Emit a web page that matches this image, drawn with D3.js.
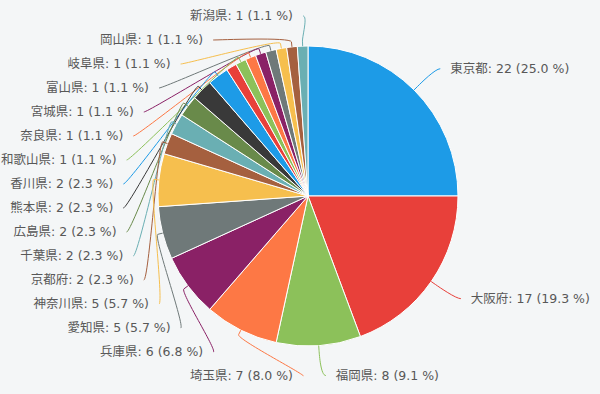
<!DOCTYPE html>
<html lang="ja">
<head>
<meta charset="utf-8">
<title>都道府県別</title>
<script src="https://cdn.jsdelivr.net/npm/d3@7"></script>
<style>
  body { margin: 0; background: #f4f6f7; }
  svg { display: block; }
  .lbl { font: 12.5px "DejaVu Sans", "Noto Sans CJK JP", sans-serif; fill: #585858; }
</style>
</head>
<body>
<svg id="chart" width="600" height="394"></svg>
<script>
// data, in slice order (clockwise from 12 o'clock)
var prefectures = ["東京都", "大阪府", "福岡県", "埼玉県", "兵庫県", "愛知県", "神奈川県",
  "京都府", "千葉県", "広島県", "熊本県", "香川県", "その他", "和歌山県", "奈良県",
  "宮城県", "富山県", "岐阜県", "岡山県", "新潟県"];
var counts = [22, 17, 8, 7, 6, 5, 5, 2, 2, 2, 2, 2, 1, 1, 1, 1, 1, 1, 1, 1];
var palette = ["#1d9be7", "#e8403a", "#8cc15a", "#fd7845", "#8a2166", "#6f7979",
  "#f6bf4e", "#a5603f", "#6aafb3", "#698a4a", "#393939"];

var svg = d3.select("#chart");
var cx = 308, cy = 196, r = 150;
var dist = 30, R = r + dist, pad = 5;
var yTop = 16, yBot = 376, rowH = 24;

var total = d3.sum(counts);
var data = counts.map(function(v, i) { return { name: prefectures[i], value: v, i: i }; });

var pie = d3.pie().sort(null).value(function(d) { return d.value; });
var arcs = pie(data);
var arc = d3.arc().innerRadius(0).outerRadius(r);

var g = svg.append("g").attr("transform", "translate(" + cx + "," + cy + ")");

g.selectAll("path.slice")
  .data(arcs)
  .enter().append("path")
  .attr("class", "slice")
  .attr("d", arc)
  .attr("fill", function(d) { return palette[d.index % palette.length]; })
  .attr("stroke", "#fff")
  .attr("stroke-width", 1)
  .attr("stroke-linejoin", "round");

// label layout (like highcharts: on a circle of radius R, spread out vertically)
arcs.forEach(function(a) {
  a.mid = (a.startAngle + a.endAngle) / 2;
  a.left = Math.sin(a.mid) < 0;
  a.ny = cy - R * Math.cos(a.mid);
});

function place(list) {
  var cap = Math.floor((yBot - yTop) / rowH) + 1;
  var keep = list.slice();
  while (keep.length > cap) {
    var minV = d3.min(keep, function(a) { return a.value; });
    var drop = keep.filter(function(a) { return a.value === minV; })[0];
    keep.splice(keep.indexOf(drop), 1);
  }
  keep.sort(function(a, b) { return a.ny - b.ny; });
  keep.forEach(function(a, k) {
    a.y = Math.max(a.ny, yTop, k ? keep[k - 1].y + rowH : yTop);
  });
  for (var k = keep.length - 1; k >= 0; k--) {
    var lim = k === keep.length - 1 ? yBot : keep[k + 1].y - rowH;
    keep[k].y = Math.min(keep[k].y, lim);
  }
  return keep;
}

var shown = place(arcs.filter(function(a) { return a.left; }))
  .concat(place(arcs.filter(function(a) { return !a.left; })));

shown.forEach(function(a) {
  var s = a.left ? -1 : 1;
  var ang = Math.asin(Math.max(-1, Math.min(1, (a.y - cy) / R)));
  a.x = cx + s * (Math.cos(ang) * R + pad);
});

function connector(a) {
  var sx = Math.sin(a.mid), sy = -Math.cos(a.mid);
  var touch = [cx + sx * r, cy + sy * r];
  var brk = [cx + sx * (r + 5), cy + sy * (r + 5)];
  var p = d3.path();
  p.moveTo(a.x, a.y);
  p.bezierCurveTo(a.x + (a.left ? 5 : -5), a.y, 2 * brk[0] - touch[0], 2 * brk[1] - touch[1], brk[0], brk[1]);
  p.lineTo(touch[0], touch[1]);
  return p.toString();
}

svg.append("g").selectAll("path")
  .data(shown)
  .enter().append("path")
  .attr("d", connector)
  .attr("fill", "none")
  .attr("stroke", function(d) { return palette[d.index % palette.length]; })
  .attr("stroke-width", 1);

svg.append("g").selectAll("text")
  .data(shown)
  .enter().append("text")
  .attr("class", "lbl")
  .attr("x", function(d) { return d.left ? d.x - 10 : d.x + 10; })
  .attr("y", function(d) { return d.y; })
  .attr("dy", "0.35em")
  .attr("text-anchor", function(d) { return d.left ? "end" : "start"; })
  .text(function(d) {
    return d.data.name + ": " + d.value + " (" + (d.value / total * 100).toFixed(1) + " %)";
  });
</script>
</body>
</html>
